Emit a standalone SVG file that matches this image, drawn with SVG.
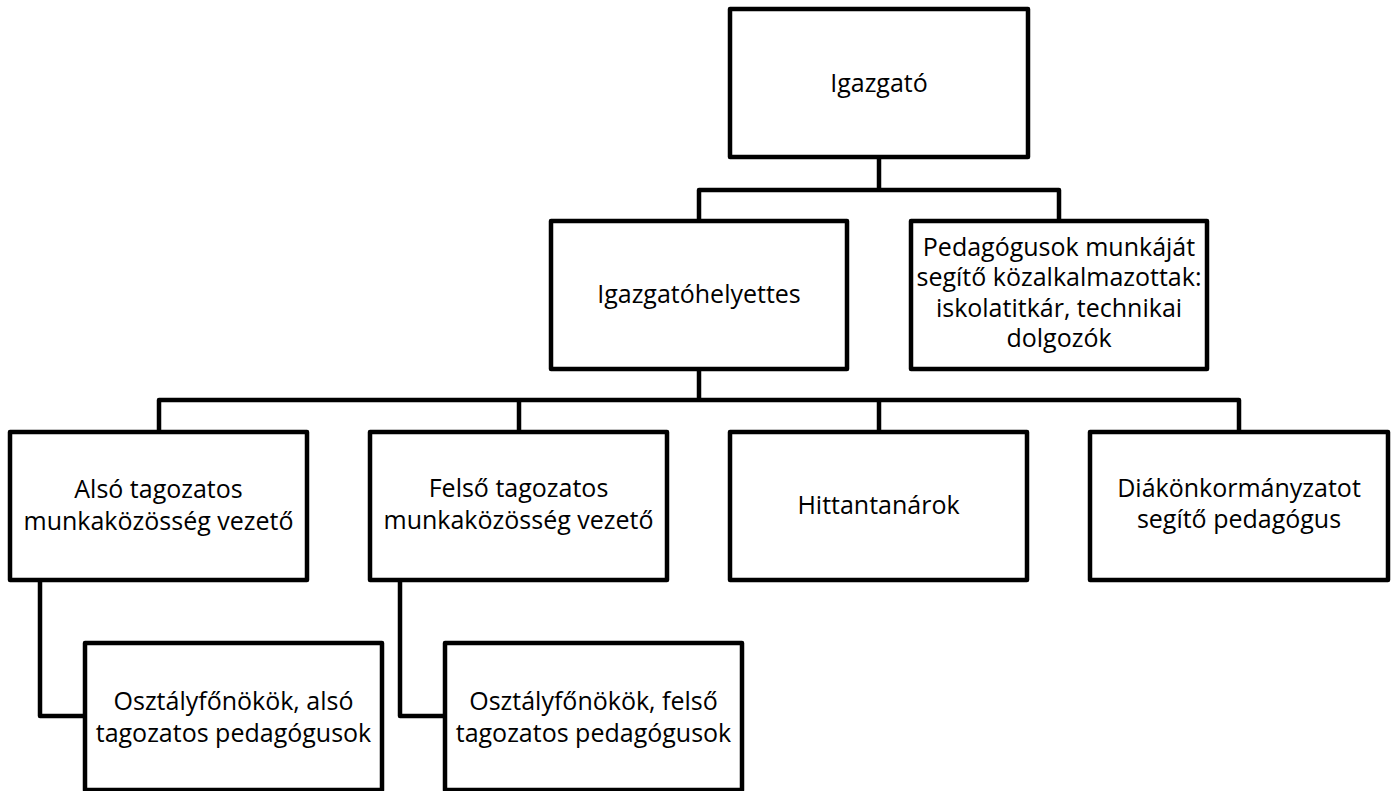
<svg xmlns="http://www.w3.org/2000/svg" width="1395" height="791" viewBox="0 0 1395 791">
<style>
.box{fill:#fff;stroke:#000;stroke-width:4.5;stroke-linejoin:round}
.con{fill:none;stroke:#000;stroke-width:4.5;stroke-linejoin:round}
text{font-family:"Open Sans","Noto Sans","Liberation Sans",sans-serif;font-size:25px;fill:#000;text-anchor:middle}
</style>
<rect width="1395" height="791" fill="#fff"/>
<g id="connectors">
<path class="con" d="M879,157 V190"/>
<path class="con" d="M699,221 V190 H1059 V221"/>
<path class="con" d="M699,369 V400"/>
<path class="con" d="M159,432 V400 H1239 V432"/>
<path class="con" d="M519,400 V432"/>
<path class="con" d="M879,400 V432"/>
<path class="con" d="M40,580 V716 H85"/>
<path class="con" d="M400,580 V716 H445"/>
</g>
<g id="igazgato">
<rect class="box" x="730" y="9" width="298" height="148"/>
<text x="879" y="92">Igazgató</text>
</g>
<g id="igazgatohelyettes">
<rect class="box" x="551" y="221" width="296" height="148"/>
<text x="699" y="303">Igazgatóhelyettes</text>
</g>
<g id="pedagogusok">
<rect class="box" x="911" y="221" width="296" height="148"/>
<text x="1059" y="256">Pedagógusok munkáját</text>
<text x="1059" y="286">segítő közalkalmazottak:</text>
<text x="1059" y="316.5">iskolatitkár, technikai</text>
<text x="1059" y="347">dolgozók</text>
</g>
<g id="also">
<rect class="box" x="10" y="432" width="297" height="148"/>
<text x="158.5" y="498">Alsó tagozatos</text>
<text x="158.5" y="530">munkaközösség vezető</text>
</g>
<g id="felso">
<rect class="box" x="370" y="432" width="297" height="148"/>
<text x="518.5" y="497">Felső tagozatos</text>
<text x="518.5" y="529">munkaközösség vezető</text>
</g>
<g id="hittan">
<rect class="box" x="730" y="432" width="297" height="148"/>
<text x="878.5" y="514">Hittantanárok</text>
</g>
<g id="diak">
<rect class="box" x="1090" y="432" width="298" height="148"/>
<text x="1239" y="497">Diákönkormányzatot</text>
<text x="1239" y="528">segítő pedagógus</text>
</g>
<g id="osztaly-also">
<rect class="box" x="85" y="643" width="297" height="147"/>
<text x="233.5" y="710">Osztályfőnökök, alsó</text>
<text x="233.5" y="742">tagozatos pedagógusok</text>
</g>
<g id="osztaly-felso">
<rect class="box" x="445" y="643" width="297" height="147"/>
<text x="593.5" y="710">Osztályfőnökök, felső</text>
<text x="593.5" y="742">tagozatos pedagógusok</text>
</g>
</svg>
